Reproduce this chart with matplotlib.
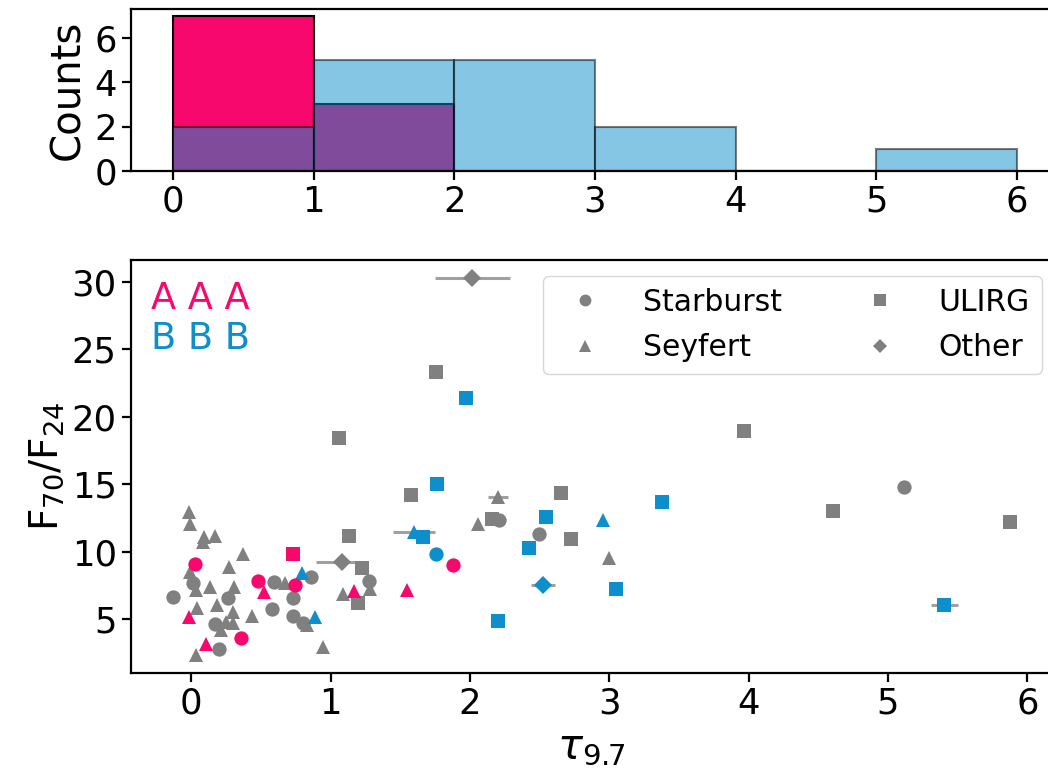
import numpy as np
import matplotlib
matplotlib.use("Agg")
import matplotlib.pyplot as plt
from matplotlib.lines import Line2D

# colours
pink = "#F7086C"
blue = "#0C8FCB"
grey = "#808080"
err_grey = "#a0a0a0"

# comparison sample (grey) -- tau_9.7 and F70/F24
gsb_tau = [0.860, 1.274, 2.208, 2.495, 5.117, 0.014, -0.134, 0.261, 0.172, 0.201,
           0.596, 0.728, 0.580, 0.733, 0.800]
gsb_f = [8.15, 7.84, 12.34, 11.31, 14.81, 7.69, 6.61, 6.53, 4.63, 2.77,
         7.77, 6.53, 5.74, 5.22, 4.68]

gsy_tau = [2.200, 2.057, 2.998, 1.279, 1.087, 0.943, -0.014, -0.009, 0.093, 0.172,
           0.081, 0.369, 0.268, -0.009, 0.034, 0.134, 0.309, 0.038, 0.182, 0.297,
           0.436, 0.249, 0.297, 0.213, 0.034, 0.675, 0.830]
gsy_f = [14.03, 12.05, 9.50, 7.23, 6.85, 2.90, 12.96, 12.03, 11.11, 11.18,
         10.73, 9.82, 8.84, 8.51, 7.15, 7.40, 7.40, 5.79, 6.04, 5.54,
         5.22, 4.80, 4.68, 4.18, 2.33, 7.65, 4.55]
gsy_err = [0.07] + [0.0] * 26

gul_tau = [1.753, 1.063, 1.578, 2.656, 2.160, 1.135, 2.723, 1.226, 1.195, 3.966, 4.607, 5.876]
gul_f = [23.35, 18.45, 14.20, 14.33, 12.40, 11.18, 10.91, 8.81, 6.16, 18.95, 13.01, 12.17]

got_tau = [2.016, 1.083]
got_f = [30.27, 9.25]
got_err = [0.27, 0.185]

# sample A (pink)
asb_tau = [0.027, 1.877, 0.481, 0.747, 0.359]
asb_f = [9.06, 9.01, 7.82, 7.52, 3.61]
asy_tau = [-0.02, 0.106, 0.524, 1.164, 1.547]
asy_f = [5.13, 3.15, 7.03, 7.08, 7.15]
aul_tau = [0.733]
aul_f = [9.82]

# sample B (blue)
bsb_tau = [1.758]
bsb_f = [9.82]
bsy_tau = [2.953, 1.597, 0.795, 0.889]
bsy_f = [12.34, 11.48, 8.39, 5.13]
bsy_err = [0.0, 0.15, 0.0, 0.0]
bul_tau = [1.968, 1.765, 3.381, 2.548, 1.662, 2.426, 3.046, 5.404, 2.203]
bul_f = [21.37, 15.01, 13.66, 12.59, 11.11, 10.24, 7.20, 6.06, 4.85]
bul_err = [0, 0, 0, 0, 0, 0, 0, 0.095, 0]
bot_tau = [2.524]
bot_f = [7.52]
bot_err = [0.086]

bins = np.arange(0, 7)

W, H = 1048, 777
fig = plt.figure(figsize=(W / 100, H / 100), dpi=100)

def px_axes(left, top, right, bottom):
    return fig.add_axes([left / W, 1 - bottom / H, (right - left) / W, (bottom - top) / H])

tick_fs = 25.5
lab_fs = 28

# ---- histogram panel
axh = px_axes(130.7, 8.5, 1059, 170.7)
a_all = asb_tau + asy_tau + aul_tau
b_all = bsb_tau + bsy_tau + bul_tau + bot_tau
axh.hist(a_all, bins=bins, color=pink, edgecolor="black", linewidth=1.5)
axh.hist(b_all, bins=bins, color=blue, alpha=0.5, edgecolor="black", linewidth=1.5)
axh.set_xlim(-0.3, 6.3)
axh.set_ylim(0, 7.35)
axh.set_yticks([0, 2, 4, 6])
axh.set_xticks(range(7))
axh.set_ylabel("Counts", fontsize=29)

# ---- scatter panel
ax = px_axes(130.7, 260, 1052, 672.7)
ms = 10.3
kw = dict(linestyle="none", ecolor=err_grey, elinewidth=2.2, capsize=0, mew=0)

ax.errorbar(gsb_tau, gsb_f, fmt="o", color=grey, ms=ms, **kw)
ax.errorbar(gsy_tau, gsy_f, xerr=gsy_err, fmt="^", color=grey, ms=ms, **kw)
ax.errorbar(gul_tau, gul_f, fmt="s", color=grey, ms=ms, **kw)
ax.errorbar(got_tau, got_f, xerr=got_err, fmt="D", color=grey, ms=9, **kw)

ax.errorbar(bsb_tau, bsb_f, fmt="o", color=blue, ms=ms, **kw)
ax.errorbar(bsy_tau, bsy_f, xerr=bsy_err, fmt="^", color=blue, ms=ms, **kw)
ax.errorbar(bul_tau, bul_f, xerr=bul_err, fmt="s", color=blue, ms=ms, **kw)
ax.errorbar(bot_tau, bot_f, xerr=bot_err, fmt="D", color=blue, ms=9, **kw)

ax.errorbar(asb_tau, asb_f, fmt="o", color=pink, ms=ms, **kw)
ax.errorbar(asy_tau, asy_f, fmt="^", color=pink, ms=ms, **kw)
ax.errorbar(aul_tau, aul_f, fmt="s", color=pink, ms=ms, **kw)

ax.set_xlim(-0.435, 6.177)
ax.set_ylim(1.02, 31.63)
ax.set_xticks(range(7))
ax.set_yticks([5, 10, 15, 20, 25, 30])
ax.set_xlabel(r"$\tau_{9.7}$", fontsize=30)
ax.set_ylabel(r"F$_{70}$/F$_{24}$", fontsize=lab_fs)

handles = [
    Line2D([], [], marker="o", color=grey, ls="none", ms=8.5, mew=0),
    Line2D([], [], marker="^", color=grey, ls="none", ms=8.5, mew=0),
    Line2D([], [], marker="s", color=grey, ls="none", ms=8.5, mew=0),
    Line2D([], [], marker="D", color=grey, ls="none", ms=7.5, mew=0),
]
labels = ["Starburst", "Seyfert", "ULIRG", "Other"]
ax.legend(handles, labels, ncol=2, fontsize=21.5, loc="upper right",
          bbox_to_anchor=(1041.7 / W, 1 - 275.7 / H), bbox_transform=fig.transFigure,
          borderaxespad=0, handletextpad=0.95, columnspacing=2.3, labelspacing=0.55)

fig.text(151 / W, 1 - 309.3 / H, "A A A", color=pink, fontsize=26.5, va="baseline")
fig.text(151 / W, 1 - 349.3 / H, "B B B", color=blue, fontsize=26.5, va="baseline")

for a in (axh, ax):
    a.tick_params(labelsize=tick_fs, width=1.6, length=6.5)
    for s in a.spines.values():
        s.set_linewidth(1.6)
    # right edge falls outside the saved image
    a.spines["right"].set_visible(False)

fig.savefig("out.png", dpi=100)
